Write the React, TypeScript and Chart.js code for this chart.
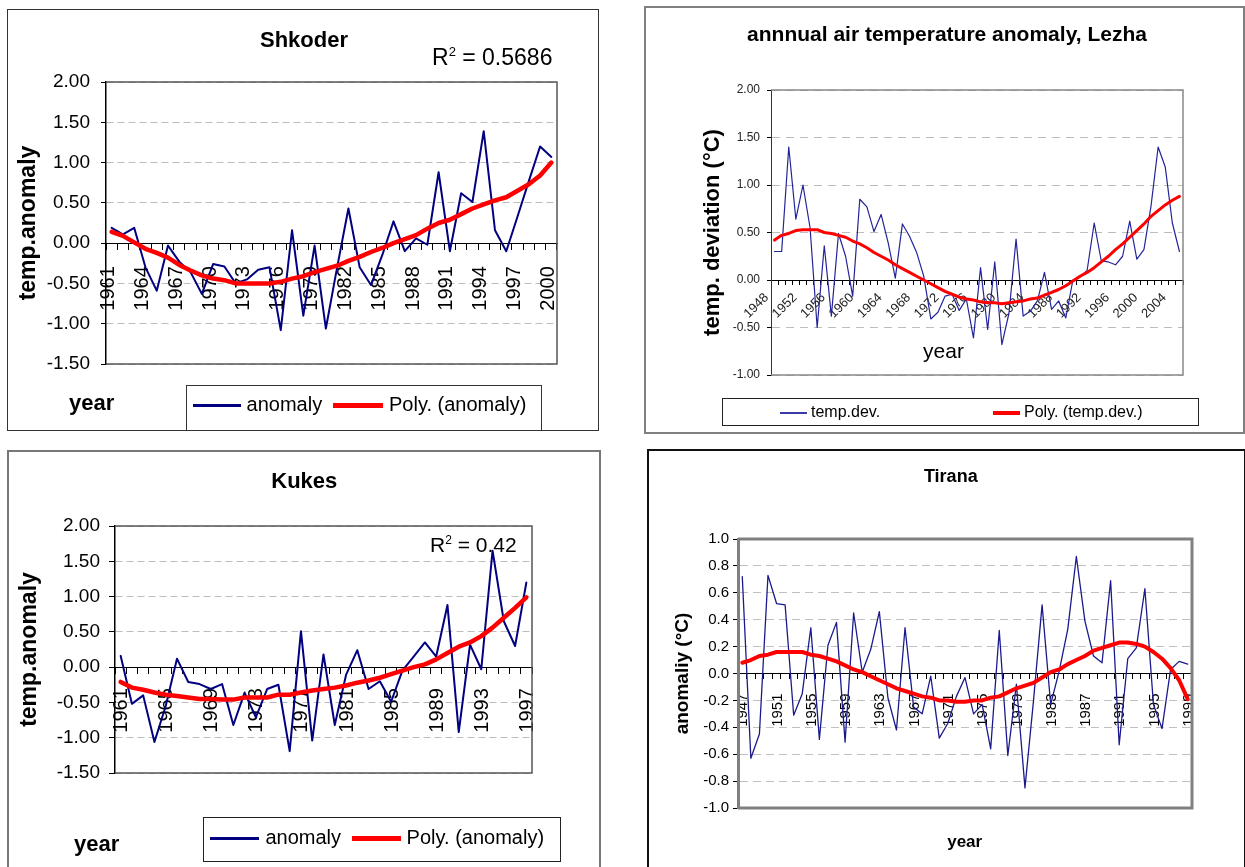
import React, { useEffect, useRef } from 'react';
import { Chart, registerables } from 'chart.js';

Chart.register(...registerables);

const FONT = "'Liberation Sans', Arial, sans-serif";
Chart.defaults.font.family = FONT;

// ---------------- Shkoder ----------------
const shkoderYears = [1961, 1962, 1963, 1964, 1965, 1966, 1967, 1968, 1969, 1970, 1971, 1972, 1973, 1974, 1975, 1976, 1977, 1978, 1979, 1980, 1981, 1982, 1983, 1984, 1985, 1986, 1987, 1988, 1989, 1990, 1991, 1992, 1993, 1994, 1995, 1996, 1997, 1998, 1999, 2000];
const shkoderAnomaly = [0.19, 0.11, 0.19, -0.30, -0.59, -0.03, -0.23, -0.36, -0.63, -0.26, -0.29, -0.50, -0.45, -0.33, -0.30, -1.08, 0.16, -0.90, -0.03, -1.06, -0.30, 0.43, -0.30, -0.52, -0.15, 0.27, -0.10, 0.06, -0.02, 0.88, -0.10, 0.62, 0.51, 1.39, 0.16, -0.10, 0.33, 0.77, 1.20, 1.07];
const shkoderPoly = [0.14, 0.09, 0.01, -0.07, -0.12, -0.18, -0.27, -0.34, -0.40, -0.44, -0.46, -0.50, -0.50, -0.50, -0.50, -0.48, -0.44, -0.41, -0.36, -0.32, -0.28, -0.22, -0.17, -0.11, -0.06, 0.00, 0.05, 0.10, 0.18, 0.25, 0.29, 0.36, 0.43, 0.48, 0.53, 0.57, 0.65, 0.73, 0.84, 1.00];

// ---------------- Lezha ----------------
const lezhaYears = [1948, 1949, 1950, 1951, 1952, 1953, 1954, 1955, 1956, 1957, 1958, 1959, 1960, 1961, 1962, 1963, 1964, 1965, 1966, 1967, 1968, 1969, 1970, 1971, 1972, 1973, 1974, 1975, 1976, 1977, 1978, 1979, 1980, 1981, 1982, 1983, 1984, 1985, 1986, 1987, 1988, 1989, 1990, 1991, 1992, 1993, 1994, 1995, 1996, 1997, 1998, 1999, 2000, 2001, 2002, 2003, 2004, 2005];
const lezhaDev = [0.30, 0.30, 1.40, 0.64, 1.00, 0.55, -0.50, 0.36, -0.38, 0.49, 0.25, -0.17, 0.85, 0.77, 0.51, 0.69, 0.39, 0.02, 0.59, 0.46, 0.29, 0.04, -0.41, -0.34, -0.17, -0.15, -0.32, -0.20, -0.61, 0.13, -0.52, 0.19, -0.68, -0.35, 0.43, -0.38, -0.33, -0.22, 0.08, -0.31, -0.22, -0.40, 0.00, 0.03, 0.10, 0.60, 0.20, 0.19, 0.16, 0.25, 0.62, 0.22, 0.32, 0.78, 1.40, 1.19, 0.60, 0.30];
const lezhaPoly = [0.42, 0.47, 0.49, 0.52, 0.53, 0.53, 0.53, 0.50, 0.49, 0.47, 0.45, 0.41, 0.38, 0.34, 0.29, 0.25, 0.21, 0.16, 0.12, 0.08, 0.04, 0.00, -0.04, -0.08, -0.12, -0.15, -0.18, -0.20, -0.21, -0.23, -0.24, -0.24, -0.25, -0.24, -0.23, -0.22, -0.20, -0.19, -0.16, -0.13, -0.10, -0.06, -0.01, 0.04, 0.08, 0.13, 0.19, 0.25, 0.32, 0.38, 0.45, 0.52, 0.59, 0.67, 0.73, 0.79, 0.84, 0.88];

// ---------------- Kukes ----------------
const kukesYears = [1961, 1962, 1963, 1964, 1965, 1966, 1967, 1968, 1969, 1970, 1971, 1972, 1973, 1974, 1975, 1976, 1977, 1978, 1979, 1980, 1981, 1982, 1983, 1984, 1985, 1986, 1987, 1988, 1989, 1990, 1991, 1992, 1993, 1994, 1995, 1996, 1997];
const kukesAnomaly = [0.16, -0.52, -0.40, -1.06, -0.55, 0.12, -0.21, -0.24, -0.31, -0.24, -0.82, -0.36, -0.71, -0.31, -0.25, -1.19, 0.51, -1.04, 0.18, -0.82, -0.11, 0.24, -0.31, -0.20, -0.49, -0.05, 0.15, 0.35, 0.15, 0.88, -0.92, 0.32, -0.03, 1.65, 0.65, 0.30, 1.20];
const kukesPoly = [-0.21, -0.29, -0.32, -0.36, -0.39, -0.41, -0.43, -0.45, -0.45, -0.46, -0.46, -0.43, -0.43, -0.43, -0.39, -0.39, -0.36, -0.33, -0.31, -0.29, -0.26, -0.22, -0.19, -0.15, -0.10, -0.05, 0.00, 0.04, 0.11, 0.20, 0.29, 0.35, 0.44, 0.56, 0.70, 0.84, 0.99];

// ---------------- Tirana ----------------
const tiranaYears = [1947, 1948, 1949, 1950, 1951, 1952, 1953, 1954, 1955, 1956, 1957, 1958, 1959, 1960, 1961, 1962, 1963, 1964, 1965, 1966, 1967, 1968, 1969, 1970, 1971, 1972, 1973, 1974, 1975, 1976, 1977, 1978, 1979, 1980, 1981, 1982, 1983, 1984, 1985, 1986, 1987, 1988, 1989, 1990, 1991, 1992, 1993, 1994, 1995, 1996, 1997, 1998, 1999];
const tiranaAnomaly = [0.72, -0.63, -0.45, 0.73, 0.52, 0.51, -0.31, -0.15, 0.34, -0.49, 0.21, 0.38, -0.51, 0.45, 0.01, 0.18, 0.46, -0.18, -0.42, 0.34, -0.25, -0.30, -0.02, -0.48, -0.37, -0.17, -0.03, -0.30, -0.23, -0.56, 0.32, -0.61, -0.08, -0.85, -0.20, 0.51, -0.23, 0.02, 0.33, 0.87, 0.39, 0.13, 0.08, 0.69, -0.53, 0.11, 0.19, 0.63, -0.23, -0.41, 0.03, 0.09, 0.07];
const tiranaPoly = [0.08, 0.10, 0.13, 0.14, 0.16, 0.16, 0.16, 0.16, 0.14, 0.13, 0.11, 0.09, 0.06, 0.03, 0.01, -0.02, -0.05, -0.08, -0.11, -0.13, -0.15, -0.17, -0.18, -0.20, -0.20, -0.21, -0.21, -0.20, -0.20, -0.18, -0.17, -0.14, -0.11, -0.09, -0.07, -0.03, 0.01, 0.03, 0.07, 0.10, 0.13, 0.17, 0.19, 0.21, 0.23, 0.23, 0.22, 0.20, 0.16, 0.11, 0.04, -0.05, -0.19];

const plotBorder = {
  id: 'plotBorder',
  beforeDatasetsDraw(chart: any, _args: any, opts: any) {
    const { ctx, chartArea: a } = chart;
    ctx.save();
    ctx.strokeStyle = opts.color;
    ctx.lineWidth = opts.width;
    ctx.beginPath();
    ctx.moveTo(a.left, a.top);
    ctx.lineTo(a.right, a.top);
    ctx.lineTo(a.right, a.bottom);
    ctx.lineTo(a.left, a.bottom);
    ctx.stroke();
    ctx.restore();
  },
};

type Series = { label: string; data: number[]; color: string; width: number };

function ChartPanel(p: any) {
  const ref = useRef<HTMLCanvasElement>(null);
  useEffect(() => {
    const c = ref.current as HTMLCanvasElement;
    const { box, plot, y, x, frame, grid } = p;
    const padTop = plot.t - box.top;
    const padBottom = box.top + box.height - plot.b;
    const padRight = box.left + box.width - plot.r;
    const yW = plot.l - box.left;
    const titleLH = y.titleSize * 1.2;
    const titlePad = y.titleX - box.left - titleLH / 2;
    const years: number[] = p.years;
    const chart = new Chart(c, {
      type: 'line',
      data: {
        labels: years.map(String),
        datasets: (p.series as Series[]).map((s) => ({
          label: s.label,
          data: s.data,
          borderColor: s.color,
          backgroundColor: s.color,
          borderWidth: s.width,
          pointRadius: 0,
          pointHoverRadius: 0,
          tension: 0,
          fill: false,
          borderJoinStyle: 'round',
          borderCapStyle: 'round',
        })),
      },
      options: {
        responsive: false,
        maintainAspectRatio: false,
        animation: false,
        devicePixelRatio: 1,
        events: [],
        layout: {
          autoPadding: false,
          padding: { left: 0, top: padTop, right: padRight, bottom: padBottom },
        },
        plugins: {
          legend: { display: false },
          title: { display: false },
          tooltip: { enabled: false },
          plotBorder: { color: frame.color, width: frame.width },
        },
        scales: {
          x: {
            type: 'category',
            position: { y: 0 },
            offset: true,
            grid: {
              offset: true,
              drawOnChartArea: false,
              drawTicks: true,
              tickLength: x.tickLen,
              tickColor: '#000',
              tickWidth: 1,
              color: '#000',
            },
            border: { display: true, color: '#000', width: 1 },
            ticks: {
              autoSkip: false,
              maxRotation: x.rot,
              minRotation: x.rot,
              padding: x.pad,
              labelOffset: x.offset,
              color: x.color,
              font: { size: x.font, family: FONT },
              callback: (_v: any, i: number) => (i % x.every === 0 ? String(years[i]) : ''),
            },
          },
          y: {
            type: 'linear',
            position: 'left',
            min: y.min,
            max: y.max,
            afterFit: (s: any) => {
              s.width = yW;
            },
            ticks: {
              stepSize: y.step,
              padding: y.pad,
              color: y.color,
              font: { size: y.font, family: FONT },
              callback: (v: any) => {
                const n = Math.abs(Number(v)) < 1e-9 ? 0 : Number(v);
                return n.toFixed(y.decimals);
              },
            },
            grid: {
              color: grid.color,
              lineWidth: 1,
              drawOnChartArea: true,
              drawTicks: true,
              tickLength: y.tickLen,
              tickColor: '#000',
              tickWidth: 1,
            },
            border: { display: true, color: frame.axisColor, width: frame.axisWidth, dash: grid.dash },
            title: {
              display: true,
              text: y.title,
              color: '#000',
              font: { size: y.titleSize, weight: 'bold', family: FONT },
              padding: { top: titlePad, bottom: 0 },
            },
          },
        },
      } as any,
      plugins: [plotBorder as any],
    });
    return () => chart.destroy();
  }, []);
  const { box } = p;
  return (
    <canvas
      ref={ref}
      width={box.width}
      height={box.height}
      style={{ position: 'absolute', left: box.left, top: box.top, width: box.width, height: box.height }}
    />
  );
}

function T(props: any) {
  const { x, y, size, bold, align, children, color } = props;
  const style: React.CSSProperties = {
    position: 'absolute',
    left: x,
    top: y - 0.4885 * size,
    fontSize: size,
    lineHeight: 1,
    fontFamily: FONT,
    fontWeight: bold ? 700 : 400,
    whiteSpace: 'nowrap',
    color: color || '#000',
  };
  if (align === 'center') style.transform = 'translateX(-50%)';
  return <div style={style}>{children}</div>;
}

function Rect(props: any) {
  const { l, t, r, b, color, w } = props;
  return (
    <div
      style={{
        position: 'absolute',
        left: l,
        top: t,
        width: r - l,
        height: b - t,
        boxSizing: 'border-box',
        border: `${w}px solid ${color}`,
      }}
    />
  );
}

function Swatch(props: any) {
  const { l, w, y, h, color } = props;
  return <div style={{ position: 'absolute', left: l, top: y - h / 2, width: w, height: h, background: color }} />;
}

const NAVY = '#000080';
const RED = '#ff0000';

export default function App() {
  return (
    <div style={{ position: 'absolute', left: 0, top: 0, width: 1245, height: 867, overflow: 'hidden', background: '#fff' }}>
      {/* Frames */}
      <Rect l={7} t={9} r={599} b={431} color="#333" w={1.5} />
      <Rect l={644} t={6} r={1245} b={434} color="#808080" w={2} />
      <Rect l={7} t={450} r={601} b={880} color="#777" w={2} />
      <Rect l={646.5} t={448.5} r={1246} b={880} color="#111" w={2} />

      {/* Shkoder */}
      <ChartPanel
        box={{ left: 8, top: 10, width: 590, height: 420 }}
        plot={{ l: 106, t: 82, r: 557, b: 364 }}
        years={shkoderYears}
        series={[
          { label: 'Poly. (anomaly)', data: shkoderPoly, color: RED, width: 4.5 },
          { label: 'anomaly', data: shkoderAnomaly, color: NAVY, width: 2 },
        ]}
        y={{ min: -1.5, max: 2, step: 0.5, decimals: 2, font: 19, tickLen: 5, pad: 11, color: '#000', title: 'temp.anomaly', titleSize: 23, titleX: 29 }}
        x={{ every: 3, rot: 90, font: 20, tickLen: 6, pad: 17, offset: -3, color: '#000' }}
        frame={{ color: '#555', width: 1.5, axisColor: '#000', axisWidth: 1.5 }}
        grid={{ color: '#bdbdbd', dash: [7, 4] }}
      />
      <T x={304} y={40} size={22} bold align="center">Shkoder</T>
      <T x={432} y={57} size={23}>
        R<span style={{ fontSize: 13, position: 'relative', top: -9 }}>2</span> = 0.5686
      </T>
      <T x={69} y={403} size={22} bold>year</T>
      <Rect l={186} t={385} r={542} b={431} color="#333" w={1.5} />
      <Swatch l={193} w={48} y={405.7} h={2.5} color={NAVY} />
      <T x={246.6} y={403.5} size={20}>anomaly</T>
      <Swatch l={333} w={50} y={405.7} h={5} color={RED} />
      <T x={389} y={403.5} size={20}>Poly. (anomaly)</T>

      {/* Lezha */}
      <ChartPanel
        box={{ left: 645, top: 7, width: 600, height: 426 }}
        plot={{ l: 771, t: 90, r: 1183, b: 375 }}
        years={lezhaYears}
        series={[
          { label: 'Poly. (temp.dev.)', data: lezhaPoly, color: RED, width: 3 },
          { label: 'temp.dev.', data: lezhaDev, color: '#24249a', width: 1.2 },
        ]}
        y={{ min: -1, max: 2, step: 0.5, decimals: 2, font: 12, tickLen: 4, pad: 7, color: '#222', title: 'temp. deviation (°C)', titleSize: 22, titleX: 713.4 }}
        x={{ every: 4, rot: 45, font: 13, tickLen: 4, pad: 6, offset: -8, color: '#222' }}
        frame={{ color: '#888', width: 1.5, axisColor: '#333', axisWidth: 1 }}
        grid={{ color: '#bdbdbd', dash: [8, 6] }}
      />
      <T x={947} y={33.2} size={21} bold align="center">annnual air temperature anomaly, Lezha</T>
      <T x={943.5} y={350.2} size={21} align="center">year</T>
      <Rect l={722} t={398} r={1199} b={426} color="#222" w={1.5} />
      <Swatch l={780} w={27} y={413} h={1.5} color="#3a3aa8" />
      <T x={811} y={412} size={16}>temp.dev.</T>
      <Swatch l={993} w={27} y={413} h={4} color={RED} />
      <T x={1024} y={412} size={16}>Poly. (temp.dev.)</T>

      {/* Kukes */}
      <ChartPanel
        box={{ left: 8, top: 451, width: 592, height: 416 }}
        plot={{ l: 115, t: 526, r: 532, b: 773 }}
        years={kukesYears}
        series={[
          { label: 'Poly. (anomaly)', data: kukesPoly, color: RED, width: 4.5 },
          { label: 'anomaly', data: kukesAnomaly, color: NAVY, width: 2 },
        ]}
        y={{ min: -1.5, max: 2, step: 0.5, decimals: 2, font: 19, tickLen: 6, pad: 9, color: '#000', title: 'temp.anomaly', titleSize: 23, titleX: 29.2 }}
        x={{ every: 4, rot: 90, font: 20, tickLen: 6, pad: 15, offset: 1, color: '#000' }}
        frame={{ color: '#555', width: 1.5, axisColor: '#000', axisWidth: 1.5 }}
        grid={{ color: '#bdbdbd', dash: [7, 4] }}
      />
      <T x={304.3} y={480.8} size={22} bold align="center">Kukes</T>
      <T x={430} y={544} size={21}>
        R<span style={{ fontSize: 12, position: 'relative', top: -8 }}>2</span> = 0.42
      </T>
      <T x={74} y={844} size={22} bold>year</T>
      <Rect l={203} t={817} r={561} b={862} color="#222" w={1.5} />
      <Swatch l={210} w={49} y={838.3} h={2.5} color={NAVY} />
      <T x={265.4} y={837} size={20}>anomaly</T>
      <Swatch l={352} w={49} y={838.3} h={5} color={RED} />
      <T x={406.6} y={837} size={20}>Poly. (anomaly)</T>

      {/* Tirana */}
      <ChartPanel
        box={{ left: 648, top: 450, width: 597, height: 417 }}
        plot={{ l: 738, t: 539, r: 1192, b: 808 }}
        years={tiranaYears}
        series={[
          { label: 'Poly.', data: tiranaPoly, color: RED, width: 4 },
          { label: 'anomaly', data: tiranaAnomaly, color: '#1a1a8c', width: 1.3 },
        ]}
        y={{ min: -1, max: 1, step: 0.2, decimals: 1, font: 15, tickLen: 5, pad: 4, color: '#000', title: 'anomaliy (°C)', titleSize: 19, titleX: 683.2 }}
        x={{ every: 4, rot: 90, font: 15, tickLen: 5, pad: 15, offset: 1, color: '#000' }}
        frame={{ color: '#808080', width: 3, axisColor: '#808080', axisWidth: 3 }}
        grid={{ color: '#c0c0c0', dash: [8, 5] }}
      />
      <T x={950.8} y={475.5} size={18} bold align="center">Tirana</T>
      <T x={964.7} y={841.2} size={17} bold align="center">year</T>
    </div>
  );
}
